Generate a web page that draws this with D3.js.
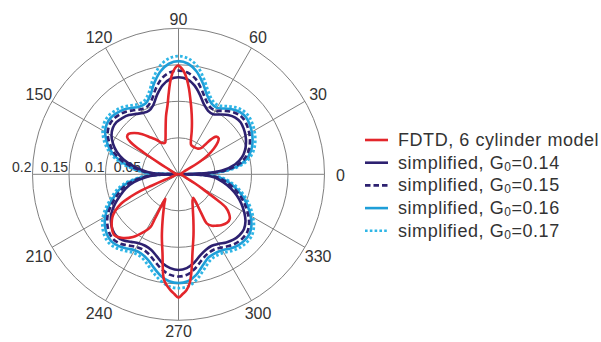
<!DOCTYPE html>
<html>
<head>
<meta charset="utf-8">
<script src="https://cdn.jsdelivr.net/npm/d3@7"></script>
<style>
  body { margin: 0; background: #fff; }
  svg { display: block; }
  text { font-family: "Liberation Sans", Arial, Helvetica, sans-serif; fill: #333; }
</style>
</head>
<body>
<svg id="chart" width="601" height="342"></svg>
<script>
// Radial ticks (field amplitude) and angular ticks (degrees)
const radialTicks = [0.05, 0.1, 0.15, 0.2];
const radialTickLabels = ["0.05", "0.1", "0.15", "0.2"];
const spokeAngles = [0, 30, 60, 90, 120, 150];
const angleTicks = [0, 30, 60, 90, 120, 150, 210, 240, 270, 300, 330];
const angleTickLabels = ["0", "30", "60", "90", "120", "150", "210", "240", "270", "300", "330"];

// Sampling angles (degrees) shared by the simplified-model curves
const simpAngles = [0, 2, 5, 10, 15, 20, 25, 30, 35, 40, 45, 50, 55, 60, 65, 70, 75, 80, 85, 90,
  95, 100, 105, 110, 115, 120, 125, 130, 135, 140, 145, 150, 155, 160, 165, 170, 175, 178, 180,
  182, 185, 190, 195, 200, 205, 210, 215, 220, 225, 230, 235, 240, 245, 250, 255, 260, 265, 270,
  275, 280, 285, 290, 295, 300, 305, 310, 315, 320, 325, 330, 335, 340, 345, 350, 355, 358, 360];

const simpG014 = [0, .035, .060, .079, .090, .097, .102, .106, .109, .111, .110, .106, .100, .095, .096, .102, .113, .124, .131, .133,
  .131, .124, .113, .101, .096, .097, .101, .106, .109, .111, .110, .106, .099, .090, .078, .062, .045, .032, 0,
  .032, .045, .062, .075, .085, .096, .106, .113, .118, .120, .118, .113, .109, .108, .110, .116, .124, .129, .131,
  .129, .123, .115, .110, .108, .110, .114, .117, .118, .117, .112, .104, .095, .085, .074, .062, .050, .035, 0];

const simpG015 = [0, .038, .065, .085, .096, .103, .108, .112, .115, .117, .116, .112, .106, .101, .102, .109, .121, .133, .140, .142,
  .140, .133, .121, .108, .102, .103, .107, .112, .115, .117, .116, .112, .105, .096, .084, .068, .049, .035, 0,
  .035, .049, .068, .081, .091, .102, .112, .119, .124, .126, .124, .119, .115, .114, .117, .124, .132, .138, .140,
  .138, .131, .122, .116, .114, .116, .120, .123, .124, .123, .118, .110, .101, .091, .080, .068, .055, .038, 0];

const simpG016 = [0, .040, .068, .089, .100, .107, .112, .116, .119, .121, .120, .116, .110, .105, .107, .115, .129, .143, .152, .155,
  .152, .143, .129, .114, .107, .107, .111, .116, .119, .121, .120, .116, .109, .100, .088, .072, .052, .037, 0,
  .037, .052, .072, .085, .095, .106, .116, .123, .128, .130, .128, .124, .120, .120, .124, .132, .141, .147, .149,
  .147, .140, .129, .121, .119, .120, .124, .127, .128, .127, .122, .114, .105, .095, .084, .072, .058, .040, 0];

const simpG017 = [0, .042, .071, .093, .104, .111, .116, .120, .123, .125, .124, .120, .114, .109, .111, .120, .135, .150, .159, .162,
  .159, .150, .135, .119, .111, .111, .115, .120, .123, .125, .124, .120, .113, .104, .092, .076, .055, .039, 0,
  .039, .055, .076, .089, .099, .110, .120, .127, .132, .134, .132, .128, .124, .124, .129, .138, .147, .154, .156,
  .154, .146, .135, .126, .123, .124, .128, .131, .132, .131, .126, .118, .109, .099, .088, .076, .062, .042, 0];

// FDTD, 6 cylinder model: traced point by point (angle in degrees, amplitude)
const fdtdAngles = [0, 10, 20, 26, 29, 31, 33, 36, 39, 42, 45, 47, 48, 49, 53, 58, 63, 67, 70, 73, 76, 79, 81, 83, 85, 87, 89, 90,
  91, 93, 95, 97, 99, 102, 106, 110, 113, 117, 122, 127, 132, 137, 141, 144, 146, 147.5, 148.5, 150, 153, 160, 170, 180,
  190, 198, 202, 203, 203.5, 205, 207, 210, 213, 218, 223, 228, 234, 239, 242, 242, 241.5, 241.5, 244, 247, 251, 255, 258.5,
  262, 264, 266, 268, 270, 272, 274, 276, 278, 280, 284, 288, 293, 298, 302, 300.5, 300, 303, 306, 310, 315, 319, 322, 325,
  326.5, 327.5, 329, 331, 335, 345, 355, 360];
const fdtdValues = [0, .003, .005, .008, .020, .036, .048, .060, .069, .074, .073, .066, .056, .048, .044, .043, .043, .044, .050, .062, .076, .092, .104, .118, .131, .141, .147, .149,
  .148, .141, .128, .111, .096, .082, .064, .052, .047, .048, .055, .063, .074, .083, .088, .087, .080, .065, .048, .030, .015, .007, .004, 0,
  .004, .006, .020, .040, .056, .072, .088, .100, .108, .116, .121, .117, .106, .092, .082, .070, .050, .038, .044, .052, .067, .088, .110,
  .145, .153, .159, .164, .169, .164, .159, .149, .130, .110, .085, .066, .050, .041, .038, .060, .078, .084, .087, .091, .094, .093, .088, .079,
  .062, .050, .038, .026, .013, .006, .003, 0];

const seriesNames = ["FDTD, 6 cylinder model", "simplified, G", "simplified, G", "simplified, G", "simplified, G"];
const seriesG0 = [null, "0.14", "0.15", "0.16", "0.17"];

const svg = d3.select("#chart");
const cx = 178.5, cy = 174.3, R = 146;

const r = d3.scaleLinear().domain([0, 0.2]).range([0, R]);
// degrees measured counter-clockwise from 3 o'clock -> d3 radial angle (clockwise from 12 o'clock)
const ang = d3.scaleLinear().domain([0, 360]).range([Math.PI / 2, Math.PI / 2 - 2 * Math.PI]);

const g = svg.append("g").attr("transform", `translate(${cx},${cy})`);

const gridColor = "#808080";

// grid circles
g.selectAll("circle.grid").data(radialTicks).join("circle")
  .attr("class", "grid")
  .attr("r", d => r(d))
  .attr("fill", "none")
  .attr("stroke", gridColor)
  .attr("stroke-width", 1);

// spokes through the centre
g.selectAll("line.spoke").data(spokeAngles).join("line")
  .attr("class", "spoke")
  .attr("x1", d => r(0.2) * Math.sin(ang(d)))
  .attr("y1", d => -r(0.2) * Math.cos(ang(d)))
  .attr("x2", d => -r(0.2) * Math.sin(ang(d)))
  .attr("y2", d => r(0.2) * Math.cos(ang(d)))
  .attr("stroke", gridColor)
  .attr("stroke-width", 1);

// radial tick labels along the 180° spoke
g.selectAll("text.rtick").data(radialTicks).join("text")
  .attr("class", "rtick")
  .attr("x", d => -r(d) - 1)
  .attr("y", -2.5)
  .attr("text-anchor", "end")
  .attr("font-size", 14)
  .text((d, i) => radialTickLabels[i]);

// angular tick labels (slightly further out towards the sides)
const labelR = d => 156 + 6 * Math.abs(Math.cos(d * Math.PI / 180));
g.selectAll("text.atick").data(angleTicks).join("text")
  .attr("class", "atick")
  .attr("x", d => labelR(d) * Math.sin(ang(d)))
  .attr("y", d => -labelR(d) * Math.cos(ang(d)) + 1.2)
  .attr("text-anchor", "middle")
  .attr("dominant-baseline", "central")
  .attr("font-size", 16)
  .text((d, i) => angleTickLabels[i]);

const radial = d3.lineRadial()
  .angle(d => ang(d[0]))
  .radius(d => r(d[1]))
  .curve(d3.curveCatmullRom.alpha(0.5));

const styles = [
  { color: "#e3262b", dash: null, width: 2.6 },
  { color: "#2d2170", dash: null, width: 2.6 },
  { color: "#2d2170", dash: "5.5,3", width: 2.6 },
  { color: "#1e9ed8", dash: null, width: 2.6 },
  { color: "#2fb6e6", dash: "2.6,2.2", width: 2.8 }
];

const simpSeries = [simpG014, simpG015, simpG016, simpG017];
// simplified curves first, FDTD on top
[4, 3, 2, 1].forEach(k => {
  const vals = simpSeries[k - 1];
  g.append("path")
    .datum(simpAngles.map((t, i) => [t, vals[i]]))
    .attr("d", radial)
    .attr("fill", "none")
    .attr("stroke", styles[k].color)
    .attr("stroke-width", styles[k].width)
    .attr("stroke-dasharray", styles[k].dash)
    .attr("stroke-linejoin", "round");
});
g.append("path")
  .datum(fdtdAngles.map((t, i) => [t, fdtdValues[i]]))
  .attr("d", radial)
  .attr("fill", "none")
  .attr("stroke", styles[0].color)
  .attr("stroke-width", styles[0].width)
  .attr("stroke-linejoin", "round");

// legend
const lx0 = 365, lx1 = 388, tx = 398, ly0 = 140, ldy = 22.7;
const leg = svg.append("g");
seriesNames.forEach((name, i) => {
  const y = ly0 + i * ldy;
  leg.append("line")
    .attr("x1", lx0).attr("x2", lx1).attr("y1", y).attr("y2", y)
    .attr("stroke", styles[i].color)
    .attr("stroke-width", 2.6)
    .attr("stroke-dasharray", styles[i].dash);
  const t = leg.append("text")
    .attr("x", tx).attr("y", y)
    .attr("dominant-baseline", "central")
    .attr("font-size", 18)
    .attr("letter-spacing", 0.55)
    .text(name);
  if (seriesG0[i]) {
    t.append("tspan").attr("font-size", 12).attr("dy", 4).text("0");
    t.append("tspan").attr("dy", -4).text("=" + seriesG0[i]);
  }
});
</script>
</body>
</html>
